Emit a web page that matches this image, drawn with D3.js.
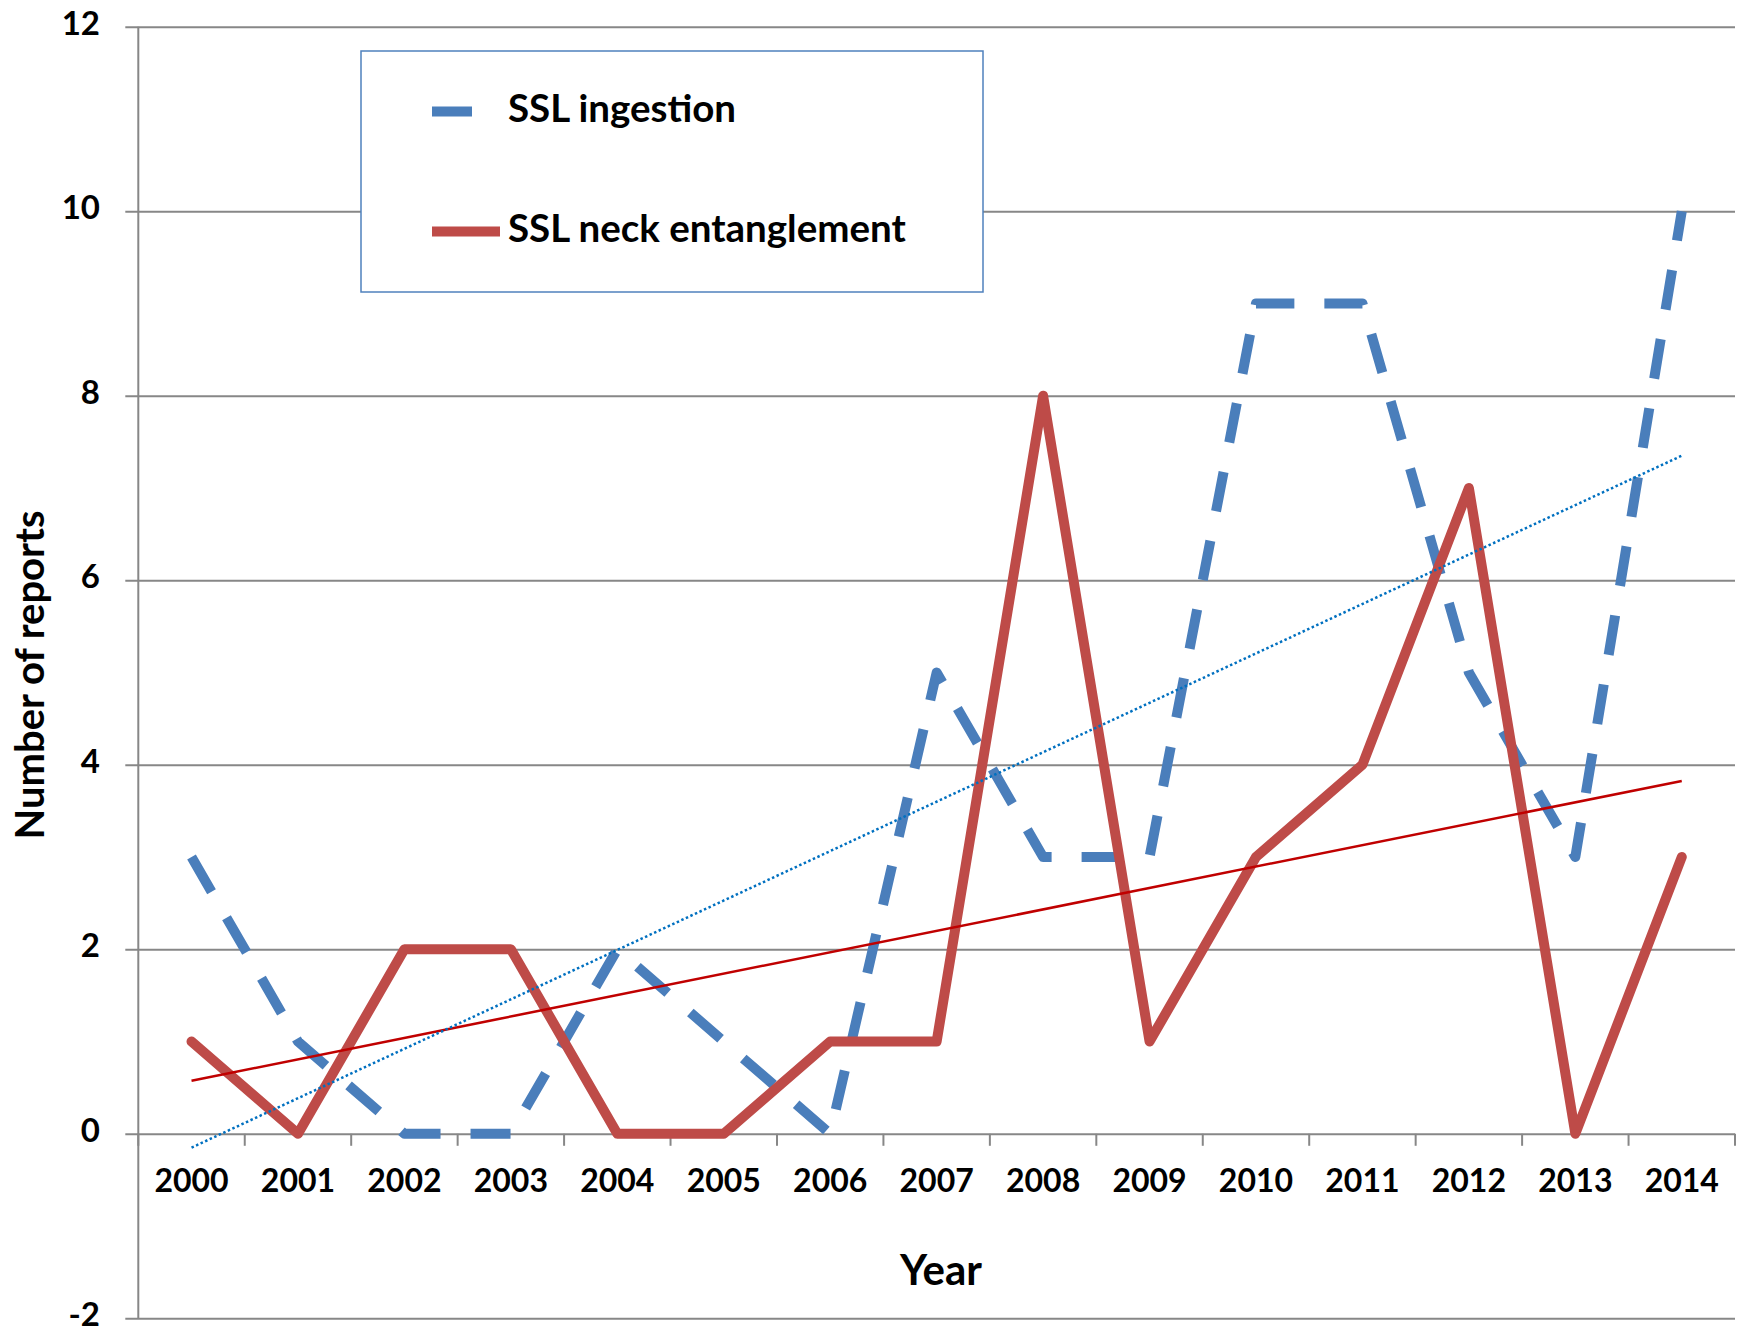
<!DOCTYPE html>
<html>
<head>
<meta charset="utf-8">
<script src="https://cdn.jsdelivr.net/npm/d3@7"></script>
<style>
 body{margin:0;background:#fff}
 svg text{font-family:Lato,"Open Sans",sans-serif;font-weight:bold;fill:#000}
</style>
</head>
<body>
<svg id="chart" width="1738" height="1333"></svg>
<script>
//---data---
var years=["2000","2001","2002","2003","2004","2005","2006","2007","2008","2009","2010","2011","2012","2013","2014"]
var ingestion=[3,1,0,0,2,1,0,5,3,3,9,9,5,3,10]
var entanglement=[1,0,2,2,0,0,1,1,8,1,3,4,7,0,3]
var yTicks=[-2,0,2,4,6,8,10,12]
var seriesNames=["SSL ingestion","SSL neck entanglement"]

function drawChart()
{
var plotLeft=138.3, plotRight=1735, plotTop=26.7, plotBottom=1318.3
var gridColor="#878787"
var blue="#4A7EBB", red="#BE4B48"

var svg=d3.select("#chart")

var xScale=d3.scalePoint()
    .domain(years)
    .range([plotLeft,plotRight])
    .padding(0.5)
var band=(plotRight-plotLeft)/years.length

var yScale=d3.scaleLinear()
    .domain([-2,12])
    .range([plotBottom,plotTop])

// horizontal gridlines, they run out to the left as tick marks
svg.append("g")
    .attr("transform","translate("+plotLeft+",0)")
    .call(d3.axisLeft(yScale)
        .tickValues(yTicks)
        .tickSize(-(plotRight-plotLeft))
        .tickFormat(""))
    .call(function(g){ g.select(".domain").remove() })
    .selectAll("line")
    .attr("x1",-13)
    .attr("stroke",gridColor)
    .attr("stroke-width",2)

// y axis line
svg.append("line")
    .attr("x1",plotLeft).attr("x2",plotLeft)
    .attr("y1",plotTop).attr("y2",plotBottom)
    .attr("stroke",gridColor)
    .attr("stroke-width",2)

// y tick labels
svg.append("g").selectAll("text")
    .data(yTicks)
    .enter().append("text")
    .attr("x",100)
    .attr("y",function(d){ return yScale(d) })
    .attr("dy","8")
    .attr("text-anchor","end")
    .attr("font-size","33px")
    .text(function(d){ return d })

// x axis at zero, with tick marks on category boundaries
var zeroY=yScale(0)
var bounds=d3.range(years.length+1).map(function(i){ return plotLeft+i*band })
svg.append("g").selectAll("line")
    .data(bounds)
    .enter().append("line")
    .attr("x1",function(d){ return d }).attr("x2",function(d){ return d })
    .attr("y1",zeroY).attr("y2",zeroY+12)
    .attr("stroke",gridColor)
    .attr("stroke-width",2)

svg.append("g").selectAll("text")
    .data(years)
    .enter().append("text")
    .attr("x",function(d){ return xScale(d) })
    .attr("y",1191.5)
    .attr("text-anchor","middle")
    .attr("font-size","32px")
    .text(function(d){ return d })

// axis titles
svg.append("text")
    .attr("x",941)
    .attr("y",1285)
    .attr("text-anchor","middle")
    .attr("font-size","42px")
    .text("Year")

svg.append("text")
    .attr("transform","translate(44,675)rotate(-90)")
    .attr("text-anchor","middle")
    .attr("font-size","40px")
    .text("Number of reports")

//---series lines---
var line=d3.line()
    .x(function(d,i){ return xScale(years[i]) })
    .y(function(d){ return yScale(d) })

svg.append("path")
    .datum(ingestion)
    .attr("fill","none")
    .attr("stroke",blue)
    .attr("stroke-width",10)
    .attr("stroke-dasharray","40,30")
    .attr("stroke-linejoin","round")
    .attr("d",line)

svg.append("path")
    .datum(entanglement)
    .attr("fill","none")
    .attr("stroke",red)
    .attr("stroke-width",10)
    .attr("stroke-linejoin","round")
    .attr("stroke-linecap","round")
    .attr("d",line)

//---linear trend lines (least squares on the series)---
function trend(vals){
   var n=vals.length
   var mx=d3.mean(d3.range(n)), my=d3.mean(vals)
   var sxy=0, sxx=0
   for(var i=0;i<n;i++){ sxy+=(i-mx)*(vals[i]-my); sxx+=(i-mx)*(i-mx) }
   var b=sxy/sxx, a=my-b*mx
   return [a, a+b*(n-1)]
}
var tIng=trend(ingestion), tEnt=trend(entanglement)
var x0=xScale(years[0]), x1=xScale(years[years.length-1])

svg.append("line")
    .attr("x1",x0).attr("y1",yScale(tEnt[0]))
    .attr("x2",x1).attr("y2",yScale(tEnt[1]))
    .attr("stroke","#C00000")
    .attr("stroke-width",2.5)

svg.append("line")
    .attr("x1",x0).attr("y1",yScale(tIng[0]))
    .attr("x2",x1).attr("y2",yScale(tIng[1]))
    .attr("stroke","#0070C0")
    .attr("stroke-width",2.5)
    .attr("stroke-dasharray","2.5,2.5")

//---legend---
var legend=svg.append("g")
legend.append("rect")
    .attr("x",361).attr("y",51)
    .attr("width",622).attr("height",241)
    .attr("fill","white")
    .attr("stroke","#4F81BD")
    .attr("stroke-width",1.5)

var legY=[111.5,231.5]
legend.append("line")
    .attr("x1",432).attr("x2",500)
    .attr("y1",legY[0]).attr("y2",legY[0])
    .attr("stroke",blue).attr("stroke-width",10)
    .attr("stroke-dasharray","40,30")
legend.append("line")
    .attr("x1",432).attr("x2",500)
    .attr("y1",legY[1]).attr("y2",legY[1])
    .attr("stroke",red).attr("stroke-width",10)

legend.selectAll("text.lab")
    .data(seriesNames)
    .enter().append("text")
    .attr("class","lab")
    .attr("x",508)
    .attr("y",function(d,i){ return legY[i]+10 })
    .attr("font-size","38.5px")
    .text(function(d){ return d })
}

drawChart()
</script>
</body>
</html>
